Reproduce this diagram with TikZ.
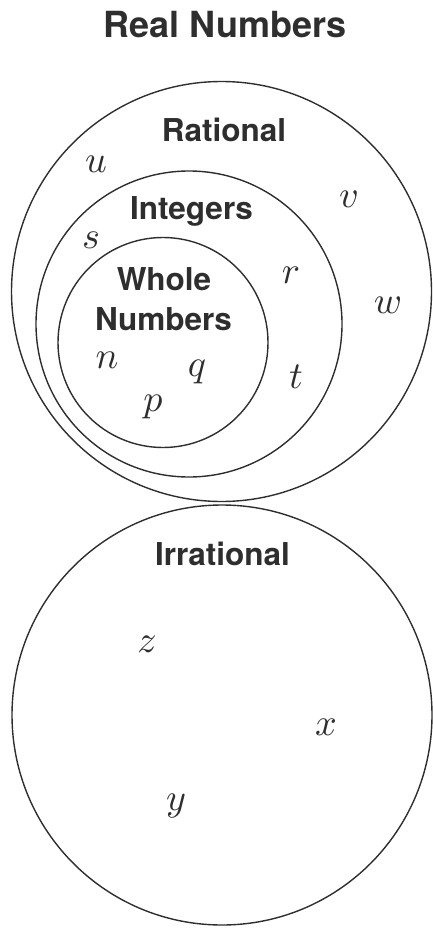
\documentclass[tikz,border=0pt]{standalone}
\usepackage{fontspec}
\setsansfont{TeX Gyre Heros}
\usetikzlibrary{positioning}
\definecolor{ink}{HTML}{2E2E2E}
\newcommand{\el}[1]{\scalebox{3.8}{$#1$}}

\begin{document}
\begin{tikzpicture}[x=1pt, y=-1pt,
      ring/.style={circle, draw=ink, line width=1.4pt, inner sep=0pt, outer sep=0pt},
      setname/.style={font=\sffamily\bfseries\fontsize{31.5}{40}\selectfont, text=ink,
                      anchor=base, inner sep=0pt},
      elem/.style={text=ink, anchor=base, inner sep=0pt}]
    \useasboundingbox (0,0) rectangle (433,928);
    % the sets
    \node[ring, minimum size=420pt] (rational) at (221.5,291.5) {};
    \node[ring, minimum size=306pt] (integers) at (189,324) {};
    \node[ring, minimum size=210pt] (whole) at (163,342.5) {};
    \node[ring, minimum size=420pt] (irrational) at (222,715) {};
    % names
    \node[setname, font=\sffamily\bfseries\fontsize{36}{40}\selectfont] (title) at (225,38) {Real Numbers};
    \node[setname] (ratname) at (224,142) {Rational};
    \node[setname] (intname) at (191.5,219) {Integers};
    \node[setname] (wholename) at (164,290) {Whole};
    \node[setname] (wholename2) at (163.5,330) {Numbers};
    \node[setname] (irrname) at (222.5,565) {Irrational};
    % elements
    \node[elem] (u) at (96,173) {\el{u}};
    \node[elem] (v) at (349,207) {\el{v}};
    \node[elem] (s) at (91,248) {\el{s}};
    \node[elem] (r) at (291,283) {\el{r}};
    \node[elem] (w) at (388,313) {\el{w}};
    \node[elem] (n) at (107,368) {\el{n}};
    \node[elem] (q) at (197,376) {\el{q}};
    \node[elem] (t) at (296,388) {\el{t}};
    \node[elem] (p) at (153,411) {\el{p}};
    \node[elem] (z) at (147,652) {\el{z}};
    \node[elem] (x) at (326,735) {\el{x}};
    \node[elem] (y) at (176,810) {\el{y}};
  \end{tikzpicture}
\end{document}
